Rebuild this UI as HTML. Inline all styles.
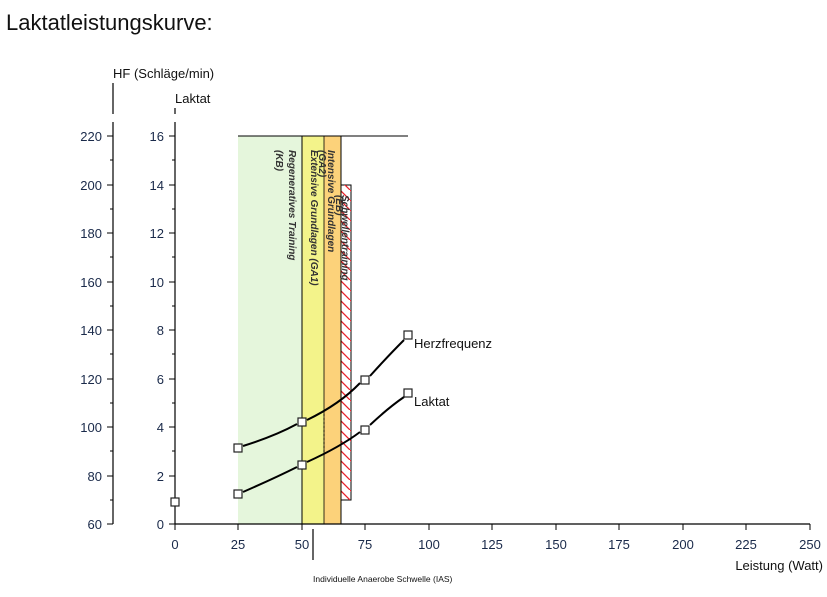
<!DOCTYPE html>
<html><head><style>
body{margin:0;background:#fff;width:827px;height:592px;overflow:hidden}
svg text{font-family:"Liberation Sans",sans-serif}
</style></head><body>
<svg width="827" height="592" xmlns="http://www.w3.org/2000/svg">
<defs><pattern id="h" width="10" height="10" patternUnits="userSpaceOnUse"><path d="M0,0 L10,10" stroke="#e8222a" stroke-width="1.3"/></pattern></defs>
<text x="6" y="30" font-size="22" fill="#111">Laktatleistungskurve:</text>
<rect x="238" y="136" width="64" height="388" fill="#e5f6dc"/>
<rect x="302" y="136" width="22" height="388" fill="#f3f38a"/>
<rect x="324" y="136" width="17" height="388" fill="#fcd27a"/>
<rect x="341" y="185" width="10" height="315" fill="#fff" stroke="#000" stroke-width="1"/>
<rect x="341" y="185" width="10" height="315" fill="url(#h)"/>
<line x1="238" y1="136" x2="408" y2="136" stroke="#000"/>
<line x1="302" y1="136" x2="302" y2="524" stroke="#000"/>
<line x1="324" y1="136" x2="324" y2="524" stroke="#000" stroke-width="0.8"/>
<line x1="341" y1="136" x2="341" y2="524" stroke="#000"/>
<g font-size="10" font-style="italic" font-weight="bold" fill="#333">
<text transform="translate(289,150) rotate(90)">Regeneratives Training</text>
<text transform="translate(276,150) rotate(90)">(KB)</text>
<text transform="translate(311,150) rotate(90)">Extensive Grundlagen (GA1)</text>
<text transform="translate(319,150) rotate(90)">(GA2)</text>
<text transform="translate(328,150) rotate(90)">Intensive Grundlagen</text>
<text transform="translate(336,195) rotate(90)">(EB)</text>
<text transform="translate(342,195) rotate(90)">Schwellentraining</text>
</g>
<g stroke="#000" stroke-width="1.2" fill="none">
<line x1="113" y1="83" x2="113" y2="114"/>
<line x1="113" y1="122" x2="113" y2="524"/>
<line x1="175" y1="108" x2="175" y2="114"/>
<line x1="175" y1="122" x2="175" y2="524"/>
<line x1="175" y1="524" x2="810" y2="524"/>
<line x1="313" y1="529" x2="313" y2="560"/>
</g>
<g stroke="#000" stroke-width="1">
<path d="M107,136h6M107,185h6M107,233h6M107,282h6M107,330h6M107,379h6M107,427h6M107,476h6M107,524h6"/>
<path d="M110,160h3M110,209h3M110,257h3M110,306h3M110,354h3M110,403h3M110,451h3M110,500h3"/>
<path d="M169,136h6M169,185h6M169,233h6M169,282h6M169,330h6M169,379h6M169,427h6M169,476h6M169,524h6"/>
<path d="M172,160h3M172,209h3M172,257h3M172,306h3M172,354h3M172,403h3M172,451h3M172,500h3"/>
<path d="M175,524v6M238,524v6M302,524v6M365,524v6M429,524v6M492,524v6M556,524v6M619,524v6M683,524v6M746,524v6M810,524v6"/>
</g>
<g font-size="13" fill="#1a2a4a" text-anchor="end">
<text x="102" y="141">220</text><text x="102" y="190">200</text><text x="102" y="238">180</text><text x="102" y="287">160</text><text x="102" y="335">140</text><text x="102" y="384">120</text><text x="102" y="432">100</text><text x="102" y="481">80</text><text x="102" y="529">60</text>
<text x="164" y="141">16</text><text x="164" y="190">14</text><text x="164" y="238">12</text><text x="164" y="287">10</text><text x="164" y="335">8</text><text x="164" y="384">6</text><text x="164" y="432">4</text><text x="164" y="481">2</text><text x="164" y="529">0</text>
</g>
<g font-size="13" fill="#1a2a4a" text-anchor="middle">
<text x="175" y="549">0</text><text x="238" y="549">25</text><text x="302" y="549">50</text><text x="365" y="549">75</text><text x="429" y="549">100</text><text x="492" y="549">125</text><text x="556" y="549">150</text><text x="619" y="549">175</text><text x="683" y="549">200</text><text x="746" y="549">225</text><text x="810" y="549">250</text>
</g>
<text x="113" y="78" font-size="13" fill="#111">HF (Schläge/min)</text>
<text x="175" y="103" font-size="13" fill="#111">Laktat</text>
<text x="823" y="570" font-size="13" fill="#111" text-anchor="end">Leistung (Watt)</text>
<text x="313" y="582" font-size="8.5" fill="#111">Individuelle Anaerobe Schwelle (IAS)</text>
<g stroke="#000" stroke-width="1" stroke-dasharray="2,2">
<line x1="175" y1="524" x2="238" y2="524"/>
<line x1="302" y1="425" x2="302" y2="462"/>
<line x1="324" y1="410" x2="324" y2="455"/>
<line x1="341" y1="380" x2="341" y2="440"/>
</g>
<g stroke="#000" stroke-width="2" fill="none">
<path d="M243,446 Q275,436 297,424"/>
<path d="M307,420 Q340,404 360,383"/>
<path d="M370,376 Q388,356 404,340"/>
<path d="M243,492 Q275,478 297,467"/>
<path d="M307,462 Q340,447 360,432"/>
<path d="M370,425 Q388,408 404,397"/>
</g>
<g fill="#fff" stroke="#222" stroke-width="1.2">
<rect x="234" y="444" width="8" height="8"/><rect x="298" y="418" width="8" height="8"/><rect x="361" y="376" width="8" height="8"/><rect x="404" y="331" width="8" height="8"/>
<rect x="234" y="490" width="8" height="8"/><rect x="298" y="461" width="8" height="8"/><rect x="361" y="426" width="8" height="8"/><rect x="404" y="389" width="8" height="8"/>
<rect x="171" y="498" width="8" height="8"/>
</g>
<text x="414" y="348" font-size="13" fill="#111">Herzfrequenz</text>
<text x="414" y="406" font-size="13" fill="#111">Laktat</text>
</svg>
</body></html>
